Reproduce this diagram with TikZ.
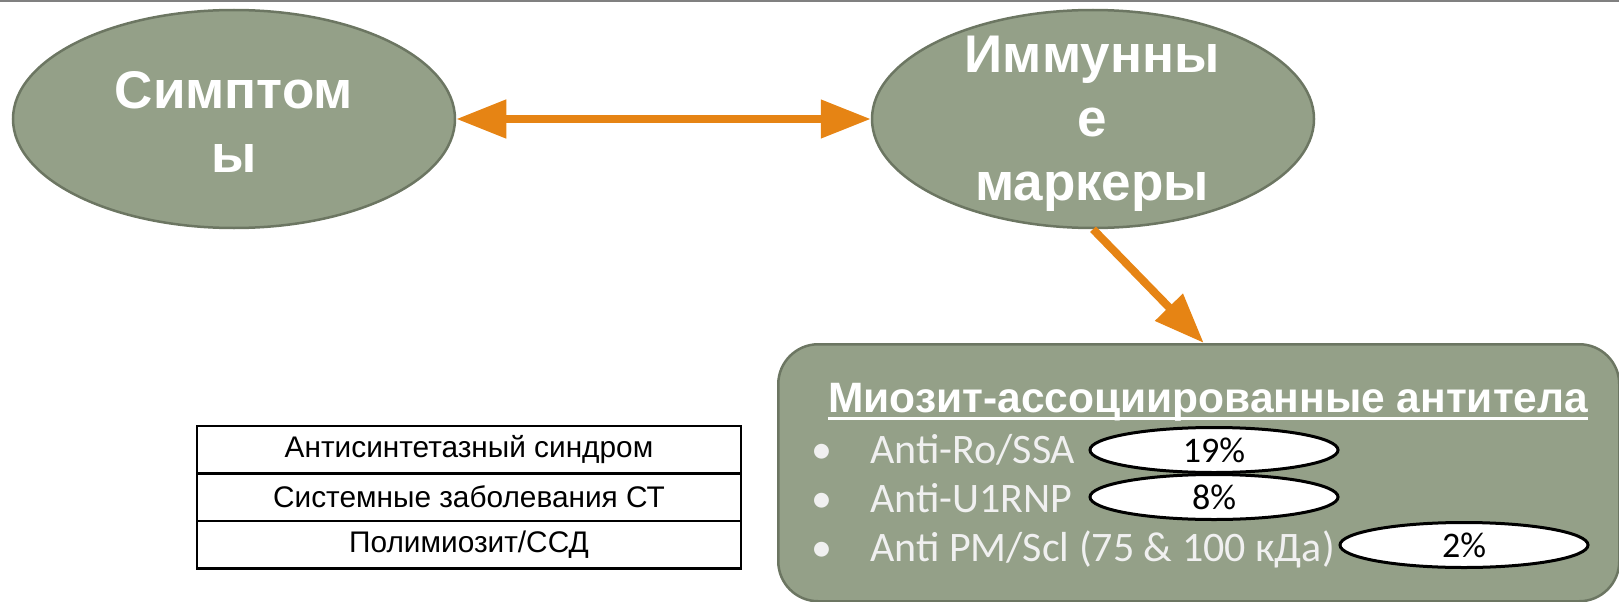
\documentclass[tikz,border=0pt]{standalone}
\usepackage{fontspec}
\setmainfont{Liberation Sans}
\newfontfamily\calib{Carlito}
\usetikzlibrary{shapes.geometric,arrows.meta,positioning}

\definecolor{sage}{RGB}{148,160,136}
\definecolor{sageline}{RGB}{108,118,98}
\definecolor{flow}{RGB}{230,132,20}

\tikzset{
    bubble/.style={ellipse, draw=sageline, line width=2.5pt, fill=sage,
        minimum width=442pt, minimum height=218pt, inner sep=0pt},
    bubbletext/.style={text=white, align=center,
        font=\fontsize{53}{64}\selectfont\bfseries},
    flowarrow/.style={flow, line width=8pt,
        -{Triangle[length=50pt,width=37pt]}},
    abpanel/.style={draw=sageline, line width=2.5pt, fill=sage, rounded corners=40pt,
        minimum width=841pt, minimum height=257pt, inner sep=0pt},
    abitem/.style={text=white!94!black, inner sep=0pt, anchor=base west,
        font=\calib\fontsize{42}{42}\selectfont},
    pct/.style={ellipse, draw=black, line width=3pt, fill=white, inner sep=0pt,
        minimum width=248pt, minimum height=45pt, font=\calib\fontsize{36}{36}\selectfont},
    cell/.style={draw=black, line width=2.5pt, outer sep=0pt,
        minimum width=544pt, minimum height=47.5pt, font=\fontsize{29.8}{29.8}\selectfont},
}

\begin{document}
\begin{tikzpicture}[x=1pt, y=-1pt]
    \useasboundingbox (0,0) rectangle (1619,602);
    \draw[gray, line width=2pt] (0,1) -- (1619,1);

    \node[bubble] (symp) at (234,119) {};
    \node[bubble] (immun) at (1093,119) {};
    \node[bubbletext] (symp-lbl) at (234,122) {Симптом\\ы};
    \node[bubbletext] (immun-lbl) at (1092,124) {Иммунны\\е\\маркеры};

    \node[abpanel, anchor=north west] (abbox) at (777,343) {};

    \draw[flowarrow, {Triangle[length=50pt,width=37pt]}-{Triangle[length=50pt,width=37pt]}]
        (symp.east) -- (immun.west);
    \draw[flowarrow] (immun.south) -- ([xshift=5pt]abbox.north);

    \node[text=white, inner sep=0pt, anchor=base west, font=\fontsize{42.5}{42.5}\selectfont\bfseries]
        (abtitle) at (828,412) {Миозит-ассоциированные антитела};
    \draw[white, line width=3pt] ([yshift=-6pt]abtitle.base west) -- ([yshift=-6pt]abtitle.base east);

    \foreach \y in {463, 512, 561}{ \node[abitem, anchor=base] at (822,\y) {\textbullet}; }
    \node[abitem] (ro) at (870,463) {Anti-Ro/SSA};
    \node[abitem] (rnp) at (870,512) {Anti-U1RNP};
    \node[abitem] (pm) at (870,561) {Anti PM/Scl (75 \& 100 кДа)};

    \foreach \n/\pc/\x/\y in {ro/19/1214/450, rnp/8/1214/497, pm/2/1464/545}{%
        \node[pct] (pc-\n) at (\x,\y) {\pc\%};
    }

    \node[cell] (row1) at (469,449.5) {Антисинтетазный синдром};
    \node[cell, below=0pt of row1] (row2) {Системные заболевания СТ};
    \node[cell, below=0pt of row2] (row3) {Полимиозит/ССД};
\end{tikzpicture}
\end{document}
